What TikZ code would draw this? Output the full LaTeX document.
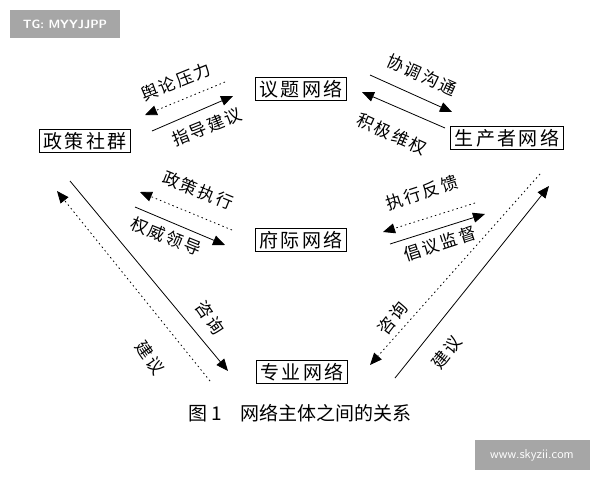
\documentclass[tikz,border=0pt]{standalone}
\usepackage{fontspec}
\newfontfamily\cjk{Noto Sans CJK SC}
\newfontfamily\cjkwide[LetterSpace=12]{Noto Sans CJK SC}
\usetikzlibrary{arrows.meta}
\begin{document}
\begin{tikzpicture}[x=1pt,y=-1pt,
  box/.style={draw,line width=1pt,inner xsep=4pt,inner ysep=3pt,font=\cjkwide\fontsize{19}{19}\selectfont},
  lbl/.style={font=\cjkwide\fontsize{17}{17}\selectfont},
  arr/.style={line width=0.8pt,-{Triangle[length=12pt,width=10pt]}},
  darr/.style={arr,dash pattern=on 1.5pt off 3pt}]
\useasboundingbox (0,0) rectangle (600,480);
\fill[gray!70] (10,10) rectangle (120,38);
\node[text=white,font=\sffamily\bfseries\fontsize{12}{12}\selectfont] (tg) at (65,24) {TG: MYYJJPP};
\fill[gray!70] (475,440) rectangle (590,470);
\node[text=white,font=\sffamily\fontsize{13}{13}\selectfont] (ws) at (532,455) {www.skyzii.com};
\node[box] (zc) at (85,141) {政策社群};
\node[box] (yt) at (301,89) {议题网络};
\node[box] (sc) at (507,138) {生产者网络};
\node[box] (fj) at (301,240) {府际网络};
\node[box] (zy) at (302,372) {专业网络};
\node[font=\cjk\fontsize{19}{19}\selectfont] (cap) at (300,413) {图 1\quad 网络主体之间的关系};
% top left
\draw[darr] (225,82) -- (145,115);
\draw[arr] (152,131) -- (233,96);
\node[lbl,rotate=22] (l1) at (176,82) {舆论压力};
\node[lbl,rotate=22] (l2) at (207,127) {指导建议};
% top right
\draw[arr] (370,75) -- (452,112);
\draw[arr] (445,128) -- (362,92);
\node[lbl,rotate=-24] (l3) at (422,75) {协调沟通};
\node[lbl,rotate=-24] (l4) at (392,134) {积极维权};
% middle left
\draw[darr] (232,230) -- (140,192);
\draw[arr] (135,207) -- (225,245);
\node[lbl,rotate=-22] (l5) at (198,190) {政策执行};
\node[lbl,rotate=-22] (l6) at (166,236) {权威领导};
% middle right
\draw[darr] (475,203) -- (383,232);
\draw[arr] (390,244) -- (485,214);
\node[lbl,rotate=18] (l7) at (422,193) {执行反馈};
\node[lbl,rotate=18] (l8) at (440,244) {倡议监督};
% long left
\draw[arr] (70,181) -- (228,371);
\draw[darr] (210,381) -- (57,191);
\node[lbl,rotate=-55] (l9) at (210,318) {咨询};
\node[lbl,rotate=-55] (l10) at (150,358) {建议};
% long right
\draw[arr] (395,378) -- (549,186);
\draw[darr] (540,174) -- (370,365);
\node[lbl,rotate=52] (l11) at (393,318) {咨询};
\node[lbl,rotate=52] (l12) at (447,352) {建议};
\end{tikzpicture}
\end{document}
